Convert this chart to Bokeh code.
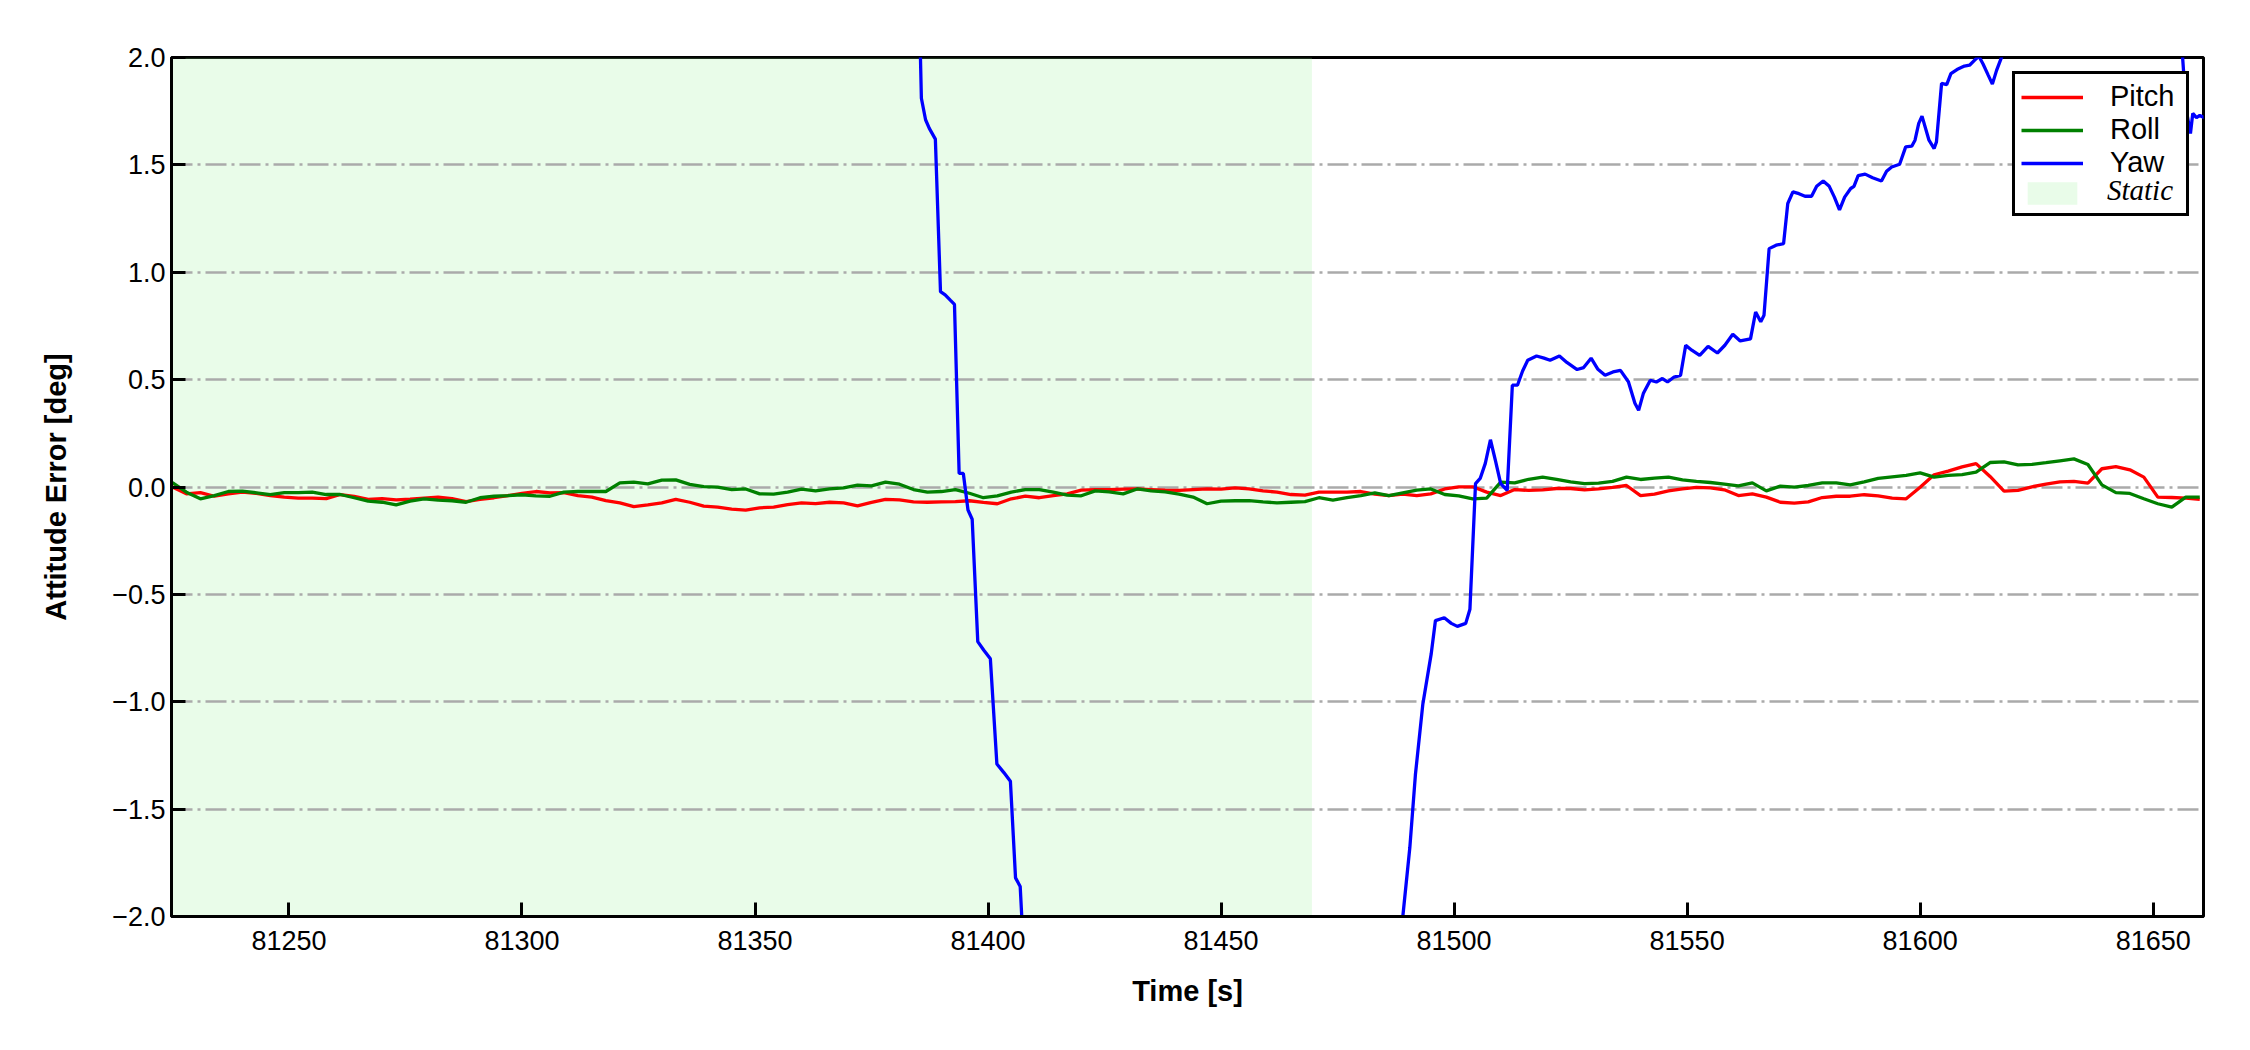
from bokeh.plotting import figure
from bokeh.models import (Legend, LegendItem, FixedTicker,
                          CustomJSTickFormatter, Range1d)
from bokeh.embed import file_html
from bokeh.resources import INLINE

# ---------------- data ----------------
x_ticks = [81250, 81300, 81350, 81400, 81450, 81500, 81550, 81600, 81650]
y_ticks = [-2.0, -1.5, -1.0, -0.5, 0.0, 0.5, 1.0, 1.5, 2.0]
y_min, y_max = -2.0, 2.0
x_min, x_max = 81224.8, 81660.8

static_start = 81224.8
static_end = 81469.5

time_s = [81225, 81228, 81231, 81234, 81237, 81240, 81243, 81246, 81249, 81252,
          81255, 81258, 81261, 81264, 81267, 81270, 81273, 81276, 81279, 81282,
          81285, 81288, 81291, 81294, 81297, 81300, 81303, 81306, 81309, 81312,
          81315, 81318, 81321, 81324, 81327, 81330, 81333, 81336, 81339, 81342,
          81345, 81348, 81351, 81354, 81357, 81360, 81363, 81366, 81369, 81372,
          81375, 81378, 81381, 81384, 81387, 81390, 81393, 81396, 81399, 81402,
          81405, 81408, 81411, 81414, 81417, 81420, 81423, 81426, 81429, 81432,
          81435, 81438, 81441, 81444, 81447, 81450, 81453, 81456, 81459, 81462,
          81465, 81468, 81471, 81474, 81477, 81480, 81483, 81486, 81489, 81492,
          81495, 81498, 81501, 81504, 81507, 81510, 81513, 81516, 81519, 81522,
          81525, 81528, 81531, 81534, 81537, 81540, 81543, 81546, 81549, 81552,
          81555, 81558, 81561, 81564, 81567, 81570, 81573, 81576, 81579, 81582,
          81585, 81588, 81591, 81594, 81597, 81600, 81603, 81606, 81609, 81612,
          81615, 81618, 81621, 81624, 81627, 81630, 81633, 81636, 81639, 81642,
          81645, 81648, 81651, 81654, 81657, 81660]

pitch = [0.000, -0.032, -0.026, -0.043, -0.032, -0.024, -0.030, -0.040, -0.047, -0.052,
         -0.052, -0.054, -0.035, -0.044, -0.058, -0.054, -0.060, -0.057, -0.052, -0.047,
         -0.054, -0.068, -0.058, -0.050, -0.040, -0.030, -0.021, -0.027, -0.026, -0.040,
         -0.047, -0.063, -0.074, -0.091, -0.083, -0.074, -0.058, -0.071, -0.089, -0.094,
         -0.103, -0.108, -0.097, -0.094, -0.082, -0.074, -0.077, -0.071, -0.074, -0.088,
         -0.072, -0.058, -0.060, -0.069, -0.071, -0.069, -0.068, -0.064, -0.072, -0.078,
         -0.055, -0.043, -0.050, -0.040, -0.032, -0.015, -0.012, -0.012, -0.010, -0.009,
         -0.012, -0.015, -0.016, -0.012, -0.009, -0.010, -0.004, -0.009, -0.018, -0.024,
         -0.035, -0.038, -0.024, -0.024, -0.024, -0.021, -0.033, -0.040, -0.033, -0.040,
         -0.032, -0.009, 0.001, 0.001, -0.024, -0.040, -0.012, -0.016, -0.013, -0.007,
         -0.007, -0.013, -0.009, -0.002, 0.007, -0.040, -0.033, -0.018, -0.009, -0.002,
         -0.004, -0.013, -0.040, -0.032, -0.047, -0.071, -0.075, -0.069, -0.049, -0.043,
         -0.043, -0.036, -0.041, -0.052, -0.055, -0.001, 0.057, 0.074, 0.094, 0.109,
         0.049, -0.019, -0.016, 0.001, 0.013, 0.024, 0.026, 0.018, 0.085, 0.095,
         0.080, 0.046, -0.047, -0.049, -0.052, -0.058]

roll = [0.020, -0.024, -0.055, -0.040, -0.021, -0.019, -0.027, -0.036, -0.026, -0.026,
        -0.024, -0.035, -0.035, -0.050, -0.066, -0.071, -0.083, -0.066, -0.055, -0.061,
        -0.064, -0.071, -0.050, -0.043, -0.040, -0.036, -0.041, -0.043, -0.024, -0.021,
        -0.021, -0.021, 0.019, 0.023, 0.015, 0.032, 0.033, 0.012, 0.002, -0.001,
        -0.012, -0.009, -0.032, -0.033, -0.024, -0.010, -0.018, -0.009, -0.004, 0.009,
        0.005, 0.023, 0.013, -0.012, -0.024, -0.021, -0.012, -0.029, -0.050, -0.041,
        -0.024, -0.012, -0.012, -0.024, -0.038, -0.041, -0.018, -0.023, -0.032, -0.009,
        -0.018, -0.023, -0.033, -0.047, -0.078, -0.066, -0.064, -0.063, -0.069, -0.074,
        -0.071, -0.068, -0.050, -0.061, -0.050, -0.040, -0.027, -0.040, -0.027, -0.015,
        -0.009, -0.035, -0.041, -0.055, -0.052, 0.023, 0.019, 0.036, 0.046, 0.036,
        0.024, 0.016, 0.018, 0.026, 0.046, 0.035, 0.041, 0.046, 0.033, 0.026,
        0.021, 0.013, 0.005, 0.019, -0.018, 0.004, -0.001, 0.007, 0.019, 0.019,
        0.010, 0.024, 0.040, 0.047, 0.054, 0.066, 0.046, 0.054, 0.058, 0.069,
        0.114, 0.117, 0.103, 0.105, 0.113, 0.122, 0.131, 0.105, 0.010, -0.026,
        -0.030, -0.055, -0.078, -0.094, -0.047, -0.047]

yaw_t = [81225.0, 81385.0, 81385.5, 81385.7, 81386.6, 81387.4, 81388.7, 81389.8, 81390.8, 81391.9,
         81392.8, 81393.8, 81394.7, 81395.7, 81396.6, 81397.8, 81399.1, 81400.5, 81401.9, 81403.4,
         81404.8, 81405.9, 81406.9, 81407.6, 81409.0, 81450.0, 81487.0, 81489.0, 81490.5, 81491.7,
         81493.3, 81495.1, 81496.0, 81497.9, 81499.4, 81500.7, 81502.5, 81503.4, 81504.6, 81505.6,
         81506.7, 81507.8, 81508.9, 81510.0, 81511.4, 81512.5, 81513.6, 81514.7, 81515.8, 81517.7,
         81519.3, 81520.6, 81522.6, 81524.2, 81526.4, 81527.8, 81529.4, 81530.8, 81532.4, 81534.1,
         81535.7, 81537.4, 81538.8, 81539.6, 81540.6, 81542.1, 81543.4, 81544.7, 81545.8, 81547.2,
         81548.6, 81549.7, 81551.0, 81552.7, 81554.5, 81556.5, 81558.1, 81559.8, 81561.4, 81563.6,
         81564.7, 81565.8, 81566.5, 81567.6, 81569.1, 81570.7, 81571.6, 81572.7, 81574.0, 81575.3,
         81576.7, 81577.8, 81579.2, 81580.5, 81581.6, 81582.7, 81583.8, 81585.1, 81585.8, 81586.7,
         81588.2, 81589.8, 81591.7, 81592.8, 81593.9, 81595.6, 81596.9, 81598.2, 81598.9, 81599.7,
         81600.4, 81601.9, 81603.0, 81603.5, 81604.6, 81605.7, 81606.6, 81607.9, 81609.5, 81610.6,
         81611.7, 81612.6, 81613.5, 81614.6, 81615.5, 81616.4, 81617.5, 81620.0, 81640.0, 81656.0,
         81657.1, 81658.0, 81658.5, 81659.3, 81660.0, 81661.0]

yaw = [3.0, 2.3, 2.0, 1.81, 1.71, 1.67, 1.62, 0.91, 0.895, 0.87,
       0.85, 0.063, 0.063, -0.107, -0.15, -0.72, -0.76, -0.80, -1.29, -1.33,
       -1.37, -1.82, -1.86, -2.15, -2.6, -3.0, -2.4, -2.0, -1.68, -1.34,
       -1.01, -0.776, -0.622, -0.609, -0.635, -0.649, -0.635, -0.569, 0.016, 0.04,
       0.11, 0.22, 0.12, 0.016, -0.016, 0.474, 0.474, 0.54, 0.59, 0.61,
       0.60, 0.59, 0.61, 0.58, 0.547, 0.556, 0.60, 0.55, 0.52, 0.536,
       0.543, 0.49, 0.39, 0.357, 0.435, 0.497, 0.489, 0.505, 0.489, 0.512,
       0.52, 0.66, 0.637, 0.613, 0.655, 0.624, 0.66, 0.711, 0.68, 0.69,
       0.815, 0.769, 0.80, 1.11, 1.126, 1.133, 1.32, 1.374, 1.366, 1.354,
       1.354, 1.40, 1.425, 1.40, 1.35, 1.29, 1.35, 1.39, 1.40, 1.45,
       1.457, 1.44, 1.425, 1.47, 1.49, 1.503, 1.584, 1.587, 1.615, 1.693,
       1.727, 1.615, 1.576, 1.607, 1.879, 1.874, 1.925, 1.944, 1.96, 1.964,
       1.988, 2.006, 1.97, 1.918, 1.876, 1.94, 2.003, 2.4, 2.6, 2.1,
       1.755, 1.646, 1.74, 1.72, 1.73, 1.72]

# ---------------- figure ----------------
FONT = "Liberation Sans"

p = figure(width=2234, height=1034, output_backend="svg", toolbar_location=None,
           x_range=Range1d(x_min, x_max), y_range=Range1d(y_min, y_max),
           min_border_left=171, min_border_right=31, min_border_top=57,
           min_border_bottom=118,
           x_axis_label="Time [s]", y_axis_label="Attitude Error [deg]")

p.background_fill_color = "white"
p.border_fill_color = "white"
p.outline_line_color = "black"
p.outline_line_width = 3
p.outline_line_alpha = 1.0

# static period band (drawn underneath the grid)
r_static = p.quad(left=[static_start], right=[static_end], bottom=[y_min], top=[y_max],
                  fill_color="lightgreen", fill_alpha=0.2, line_color=None, level="image")
# invisible renderer used only for the italic "Static" legend label
r_blank = p.quad(left=[], right=[], bottom=[], top=[], fill_alpha=0, line_alpha=0)

# axes
p.xaxis.ticker = FixedTicker(ticks=x_ticks)
p.yaxis.ticker = FixedTicker(ticks=y_ticks)
p.yaxis.formatter = CustomJSTickFormatter(code="return tick.toFixed(1).replace('-', '\u2212');")
for ax in (p.xaxis[0], p.yaxis[0]):
    ax.major_tick_in = 14
    ax.major_tick_out = 0
    ax.minor_tick_line_color = None
    ax.major_tick_line_width = 3
    ax.major_tick_line_color = "black"
    ax.axis_line_width = 3
    ax.axis_line_color = "black"
    ax.major_label_text_font = FONT
    ax.major_label_text_font_size = "27px"
    ax.major_label_text_color = "black"
    ax.axis_label_text_font = FONT
    ax.axis_label_text_font_size = "29px"
    ax.axis_label_text_font_style = "bold"
    ax.axis_label_text_color = "black"
p.xaxis.major_label_standoff = 14
p.xaxis.axis_label_standoff = 22
p.yaxis.major_label_standoff = 6
p.yaxis.axis_label_standoff = 37

# grid
p.xgrid.grid_line_color = None
p.ygrid.ticker = FixedTicker(ticks=y_ticks)
p.ygrid.grid_line_color = "#aaaaaa"
p.ygrid.grid_line_width = 2.5
p.ygrid.grid_line_dash = "21 5 3 5"

# lines
r_pitch = p.line(time_s, pitch, line_color="#ff0000", line_width=3.3)
r_roll = p.line(time_s, roll, line_color="#008000", line_width=3.3)
r_yaw = p.line(yaw_t, yaw, line_color="#0000ff", line_width=3.3)

legend = Legend(items=[LegendItem(label="Pitch", renderers=[r_pitch]),
                       LegendItem(label="Roll", renderers=[r_roll]),
                       LegendItem(label="Yaw", renderers=[r_yaw]),
                       LegendItem(label=" ", renderers=[r_static])],
                location="top_right", margin=14, padding=6, spacing=0,
                glyph_width=62, glyph_height=28, label_height=28, label_width=70,
                label_standoff=27,
                border_line_color="black", border_line_width=3, border_line_alpha=1.0,
                background_fill_color="white", background_fill_alpha=1.0,
                label_text_font=FONT, label_text_font_size="29px",
                label_text_color="black")
p.add_layout(legend)

# second, borderless legend that writes the italic serif "Static" in row 4
legend_static = Legend(items=[LegendItem(label="Static", renderers=[r_blank])],
                       location=(1847, 709), margin=0, padding=6, spacing=0,
                       glyph_width=62, glyph_height=28, label_height=28, label_width=70,
                       label_standoff=27,
                       border_line_color=None, background_fill_alpha=0.0,
                       label_text_font="Liberation Serif", label_text_font_style="italic",
                       label_text_font_size="29px", label_text_color="black")
p.add_layout(legend_static)

open("out.html", "w").write(file_html(p, INLINE))
